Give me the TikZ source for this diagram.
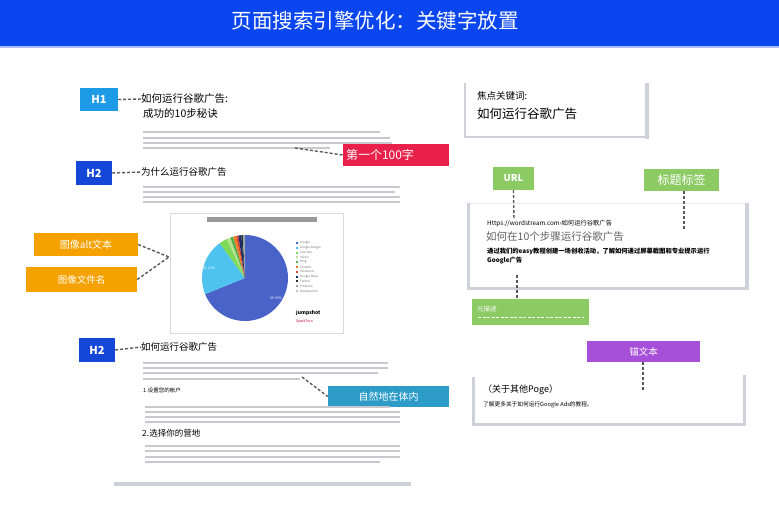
\documentclass[tikz,border=0pt]{standalone}
\usepackage{fontspec}
\setmainfont{Noto Sans CJK SC}
\definecolor{hdrblue}{RGB}{10,70,240}
\definecolor{hblue}{RGB}{30,155,230}
\definecolor{hdark}{RGB}{20,70,215}
\definecolor{redtag}{RGB}{232,32,74}
\definecolor{orangetag}{RGB}{245,162,0}
\definecolor{tealtag}{RGB}{46,156,200}
\definecolor{greentag}{RGB}{140,203,100}
\definecolor{purpletag}{RGB}{166,79,216}
\definecolor{txtline}{RGB}{200,200,206}
\definecolor{frame}{RGB}{205,209,218}
\definecolor{piea}{RGB}{74,99,200}
\definecolor{pieb}{RGB}{79,195,240}
\definecolor{piec}{RGB}{126,217,87}
\definecolor{pied}{RGB}{181,227,142}
\definecolor{piee}{RGB}{76,175,80}
\definecolor{pief}{RGB}{240,123,42}
\definecolor{pieg}{RGB}{216,69,43}
\definecolor{pieh}{RGB}{26,42,108}
\definecolor{piei}{RGB}{40,40,40}
\definecolor{piej}{RGB}{150,170,170}
\definecolor{piek}{RGB}{192,192,192}
\begin{document}
\begin{tikzpicture}[x=1pt,y=-1pt,
  tag/.style={inner sep=0pt, text=white, anchor=center},
  conn/.style={draw=black!65, line width=1.4pt, dash pattern=on 3pt off 2pt},
  vconn/.style={draw=black!65, line width=1.4pt, dash pattern=on 3pt off 2pt},
  txt/.style={anchor=west, inner sep=0pt, text=black},
  tline/.style={draw=txtline, line width=1.2pt},
  legend/.style={anchor=west, inner sep=0pt, text=black!55, font=\fontsize{3}{3}\selectfont}
]
\useasboundingbox (0,0) rectangle (779,506);
\fill[white] (0,0) rectangle (779,506);
% header
\fill[hdrblue] (0,0) rectangle (779,46);
\fill[hdrblue!35] (0,46) rectangle (779,48);
\node[tag, font=\fontsize{20.5}{20.5}\selectfont] (title) at (375,21) {页面搜索引擎优化：关键字放置};

% ---------- left panel ----------
\node[tag, fill=hblue, minimum width=38pt, minimum height=23pt, font=\bfseries\fontsize{11}{11}\selectfont] (h1) at (99,99.5) {H1};
\node[txt, font=\fontsize{10.5}{10.5}\selectfont] (t1) at (141,99) {如何运行谷歌广告:};
\node[txt, font=\fontsize{10.5}{10.5}\selectfont] (t1b) at (143,114) {成功的10步秘诀};
\draw[conn] (h1.east) -- (t1.west);
\draw[tline] (143,132) -- (380,132);
\draw[tline] (143,138) -- (390,138);
\draw[tline] (143,143) -- (392,143);
\draw[tline] (143,148) -- (330,148);
\node[tag, fill=redtag, minimum width=106pt, minimum height=22pt, font=\fontsize{12}{12}\selectfont, text width=100pt, align=left] (red) at (396,155) {第一个100字};
\coordinate (redsrc) at (295,148);
\draw[conn] (redsrc) -- (red.west);

\node[tag, fill=hdark, minimum width=36pt, minimum height=24pt, font=\bfseries\fontsize{11}{11}\selectfont] (h2a) at (94,173) {H2};
\node[txt, font=\fontsize{9.5}{9.5}\selectfont] (t2) at (141,172) {为什么运行谷歌广告};
\draw[conn] (h2a.east) -- (t2.west);
\draw[tline] (143,187) -- (400,187);
\draw[tline] (143,192) -- (395,192);
\draw[tline] (143,197) -- (400,197);
\draw[tline] (143,202) -- (400,202);

% chart image
\draw[black!15, line width=0.8pt, fill=white] (170,213) rectangle (343,333);
\node[inner sep=0pt, fill=black!40, minimum width=110pt, minimum height=5pt] (ctitle) at (262,219.5) {};
\begin{scope}[shift={(245,278)}]
  \fill[piea] (0pt,0pt) -- (90:43pt) arc[start angle=90, end angle=-158, radius=43pt] -- cycle;
  \fill[pieb] (0pt,0pt) -- (126:43pt) arc[start angle=126, end angle=202, radius=43pt] -- cycle;
  \fill[piec] (0pt,0pt) -- (115:43pt) arc[start angle=115, end angle=126, radius=43pt] -- cycle;
  \fill[pied] (0pt,0pt) -- (110:43pt) arc[start angle=110, end angle=115, radius=43pt] -- cycle;
  \fill[piee] (0pt,0pt) -- (106:43pt) arc[start angle=106, end angle=110, radius=43pt] -- cycle;
  \fill[pief] (0pt,0pt) -- (102:43pt) arc[start angle=102, end angle=106, radius=43pt] -- cycle;
  \fill[pieg] (0pt,0pt) -- (99:43pt) arc[start angle=99, end angle=102, radius=43pt] -- cycle;
  \fill[pieh] (0pt,0pt) -- (95:43pt) arc[start angle=95, end angle=99, radius=43pt] -- cycle;
  \fill[piei] (0pt,0pt) -- (93:43pt) arc[start angle=93, end angle=95, radius=43pt] -- cycle;
  \fill[piej] (0pt,0pt) -- (90:43pt) arc[start angle=90, end angle=93, radius=43pt] -- cycle;
\end{scope}
\node[inner sep=0pt, text=white, font=\fontsize{3.5}{3.5}\selectfont] (pa) at (276,298) {69.03\%};
\node[inner sep=0pt, text=white, font=\fontsize{3.5}{3.5}\selectfont] (pb) at (209,268) {21.13\%};
\foreach \c/\t [count=\i] in {piea/Google, pieb/Google Images, piec/YouTube, pied/Yahoo, piee/Bing, pief/Amazon, pieg/Facebook, pieh/Google Maps, piei/Twitter, piej/Pinterest, piek/DuckDuckGo}{
  \fill[\c] (296,{237.2+4.8*\i}) rectangle (298,{239.2+4.8*\i});
  \node[legend] (lg\i) at (300,{238.2+4.8*\i}) {\t};
}
\node[anchor=west, inner sep=0pt, font=\bfseries\fontsize{5}{5}\selectfont] (jump) at (296,313) {jumpshot};
\node[anchor=west, inner sep=0pt, text=purple, font=\fontsize{3.5}{3.5}\selectfont] (spark) at (296,322) {SparkToro};

\node[tag, fill=orangetag, minimum width=104pt, minimum height=23pt, font=\fontsize{10}{10}\selectfont] (alt) at (86,244.5) {图像alt文本};
\node[tag, fill=orangetag, minimum width=111pt, minimum height=25pt, font=\fontsize{9.5}{9.5}\selectfont] (fname) at (81.5,279.5) {图像文件名};
\coordinate (imgpt) at (169,257);
\draw[conn] (alt.east) -- (imgpt);
\draw[conn] (fname.east) -- (imgpt);

\node[tag, fill=hdark, minimum width=36pt, minimum height=24pt, font=\bfseries\fontsize{11}{11}\selectfont] (h2b) at (97,350) {H2};
\node[txt, font=\fontsize{9.5}{9.5}\selectfont] (t3) at (141,347) {如何运行谷歌广告};
\draw[conn] (h2b.east) -- (t3.west);
\draw[tline] (143,363) -- (388,363);
\draw[tline] (143,368) -- (388,368);
\draw[tline] (143,373) -- (378,373);
\draw[tline] (143,379) -- (300,379);
\node[tag, fill=tealtag, minimum width=121pt, minimum height=21pt, font=\fontsize{10}{10}\selectfont] (teal) at (388.5,396.5) {自然地在体内};
\coordinate (tealsrc) at (302,377);
\draw[conn] (tealsrc) -- (teal.west);
\node[txt, font=\fontsize{5.5}{5.5}\selectfont] (s1) at (143,390) {1.设置您的帐户};
\draw[tline] (145,407) -- (390,407);
\draw[tline] (145,412) -- (400,412);
\draw[tline] (145,417) -- (400,417);
\draw[tline] (145,422) -- (400,422);
\node[txt, font=\fontsize{8.5}{8.5}\selectfont] (s2) at (142,433) {2.选择你的营地};
\draw[tline] (145,446) -- (400,446);
\draw[tline] (145,451) -- (400,451);
\draw[tline] (145,457) -- (400,457);
\draw[tline] (145,462) -- (380,462);
\fill[frame] (114,481.5) rectangle (411,485.5);

% ---------- right panel ----------
\draw[frame, line width=1.5pt] (465,83) -- (465,137) -- (647,137);
\draw[frame, line width=4pt] (647,83) -- (647,139);
\node[txt, font=\fontsize{9.5}{9.5}\selectfont] (fk1) at (477,96) {焦点关键词:};
\node[txt, font=\fontsize{12.5}{12.5}\selectfont] (fk2) at (477,114) {如何运行谷歌广告};

\node[tag, fill=greentag, minimum width=41pt, minimum height=23pt, font=\bfseries\fontsize{9.5}{9.5}\selectfont] (url) at (513.5,178.5) {URL};
\node[tag, fill=greentag, minimum width=75pt, minimum height=22pt, font=\fontsize{12}{12}\selectfont] (ttag) at (681.5,180) {标题标签};

\draw[black!8, line width=0.8pt] (468,203) -- (747,203);
\draw[frame, line width=3pt] (468,203) -- (468,288) -- (749,288);
\draw[frame, line width=4pt] (747,203) -- (747,290);
\node[txt, font=\fontsize{6.3}{6.3}\selectfont] (surl) at (487,224) {Https://wordstream.com›如何运行谷歌广告};
\node[txt, text=black!62, font=\fontsize{10.5}{10.5}\selectfont] (stitle) at (486,237) {如何在10个步骤运行谷歌广告};
\node[txt, font=\bfseries\fontsize{6.3}{6.3}\selectfont] (sdesc) at (487,251) {通过我们的easy教程创建一场创收活动，了解如何通过屏幕截图和专业提示运行};
\node[txt, font=\bfseries\fontsize{6.3}{6.3}\selectfont] (sdesc2) at (487,261) {Google广告};
\coordinate (urlend) at (514,220);
\coordinate (ttagend) at (684,230);
\draw[vconn] (url.south) -- (urlend);
\draw[vconn] (ttag.south -| ttagend) -- (ttagend);

\node[tag, fill=greentag, minimum width=117pt, minimum height=26pt] (meta) at (530.5,312) {};
\node[anchor=west, inner sep=0pt, text=white, font=\fontsize{6.5}{6.5}\selectfont] (metat) at (477,309) {元描述};
\draw[white, line width=0.6pt, dash pattern=on 3pt off 1.5pt] (478,317.5) -- (584,317.5);
\coordinate (metasrc) at (517,275);
\draw[vconn] (metasrc) -- (meta.north -| metasrc);

\node[tag, fill=purpletag, minimum width=113pt, minimum height=21pt, font=\fontsize{9.5}{9.5}\selectfont] (anchor) at (643.5,351.5) {锚文本};
\coordinate (anchend) at (643,392);
\draw[vconn] (anchor.south -| anchend) -- (anchend);

\draw[frame, line width=3pt] (473,377) -- (473,424) -- (746,424);
\draw[frame, line width=3pt] (744.5,375) -- (744.5,425);
\node[txt, font=\fontsize{9}{9}\selectfont] (other) at (483,390) {（关于其他Poge）};
\node[txt, font=\fontsize{5.7}{5.7}\selectfont] (otherd) at (483,405) {了解更多关于如何运行Google Ads的教程。};
\end{tikzpicture}
\end{document}
